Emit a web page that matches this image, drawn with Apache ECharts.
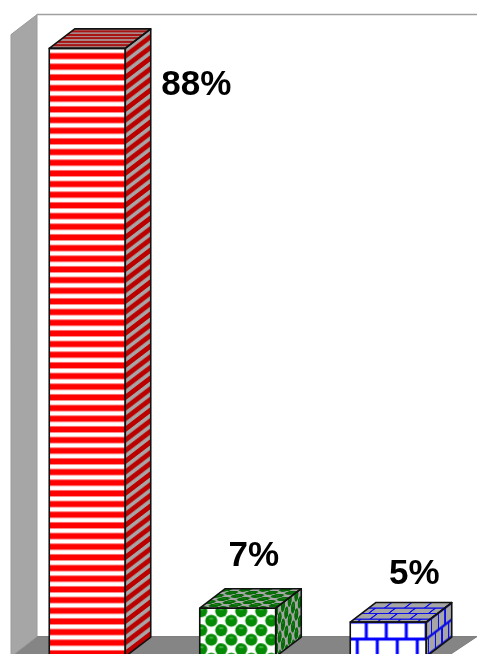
<!DOCTYPE html>
<html>
<head>
<meta charset="utf-8">
<style>html,body{margin:0;padding:0;background:#fff}#chart{width:477px;height:654px;overflow:hidden}</style>
<script src="https://cdn.jsdelivr.net/npm/echarts@6/dist/echarts.min.js"></script>
</head>
<body>
<div id="chart"></div>
<script>
// Share of respondents per group, drawn as hatched 3D columns.
const categories = ['A', 'B', 'C'];
const values = [88, 7, 5];

// Label placement relative to each column's front-top centre.
const labelDx = [109, 16, 26];
const labelDy = [37, -52, -48];

const COL_W = 76;      // column front width
const DEPTH_X = 25.5;  // projected depth of the columns
const DEPTH_Y = -19.5;
const WALL_X = 26;     // projected depth of the room
const WALL_Y = -20;

function makeTile(w, h, draw) {
  const c = document.createElement('canvas');
  c.width = w; c.height = h;
  draw(c.getContext('2d'), w, h);
  return c;
}

// Horizontal stripes: three periods in a 32px tile.
function stripes(bg, fg) {
  return makeTile(8, 32, (g, w, h) => {
    g.fillStyle = bg; g.fillRect(0, 0, w, h);
    g.fillStyle = fg;
    for (let i = 0; i < 3; i++) g.fillRect(0, i * h / 3 + 4.6, w, 6.07);
  });
}

// Checkerboard of shaded balls.
function balls(bg, fg, hi) {
  return makeTile(20, 19, (g, w, h) => {
    g.fillStyle = bg; g.fillRect(0, 0, w, h);
    const spots = [[1.5, 3], [11.5, 12.5]];
    for (const [cx, cy] of spots) {
      for (const ox of [-w, 0, w]) for (const oy of [-h, 0, h]) {
        g.fillStyle = fg;
        g.beginPath(); g.arc(cx + ox, cy + oy, 6.1, 0, Math.PI * 2); g.fill();
        g.fillStyle = hi;
        g.beginPath(); g.ellipse(cx + ox, cy + oy - 2, 2.4, 1.1, 0, 0, Math.PI * 2); g.fill();
      }
    }
  });
}

// Running-bond brickwork with separate joint weights.
function bricks(bg, fg, jointH, jointV) {
  return makeTile(40, 34, (g, w, h) => {
    g.fillStyle = bg; g.fillRect(0, 0, w, h);
    g.fillStyle = fg;
    g.fillRect(0, 17 - jointH / 2, w, jointH);
    g.fillRect(0, 0, w, jointH / 2);
    g.fillRect(0, 34 - jointH / 2, w, jointH / 2);
    for (const x of [16, 36]) g.fillRect(x - jointV / 2, 0, jointV, 17);
    for (const x of [7, 27]) g.fillRect(x - jointV / 2, 17, jointV, 17);
  });
}

const GREY = '#a6a6a6';
const textures = [
  { front: stripes('#ffffff', '#ff0000'), side: stripes(GREY, '#bb0000'), top: stripes('#a88', '#a81414') },
  { front: balls('#ffffff', '#058a05', '#43b043'), side: balls(GREY, '#066a06', '#1f861f'), top: balls(GREY, '#066a06', '#1f861f') },
  { front: bricks('#ffffff', '#0000ff', 3, 3), side: bricks(GREY, '#0c0ce8', 3, 4), top: bricks(GREY, '#0c0ce8', 3.5, 2) }
];

// Paints a tile through an affine frame into the bounding box of a parallelogram.
function faceImage(origin, u, v, spanU, spanV, tile) {
  const corners = [origin,
    [origin[0] + u[0] * spanU, origin[1] + u[1] * spanU],
    [origin[0] + u[0] * spanU + v[0] * spanV, origin[1] + u[1] * spanU + v[1] * spanV],
    [origin[0] + v[0] * spanV, origin[1] + v[1] * spanV]];
  const xs = corners.map(p => p[0]), ys = corners.map(p => p[1]);
  const x0 = Math.floor(Math.min(...xs)), y0 = Math.floor(Math.min(...ys));
  const w = Math.ceil(Math.max(...xs)) - x0, h = Math.ceil(Math.max(...ys)) - y0;
  const c = document.createElement('canvas');
  c.width = w; c.height = h;
  const g = c.getContext('2d');
  g.beginPath();
  corners.forEach((p, i) => i ? g.lineTo(p[0] - x0, p[1] - y0) : g.moveTo(p[0] - x0, p[1] - y0));
  g.closePath(); g.clip();
  g.transform(u[0], u[1], v[0], v[1], origin[0] - x0, origin[1] - y0);
  g.imageSmoothingEnabled = true;
  g.fillStyle = g.createPattern(tile, 'repeat');
  g.fillRect(0, 0, spanU, spanV);
  return { type: 'image', silent: true, style: { image: c, x: x0, y: y0, width: w, height: h } };
}

function poly(points, style) {
  return { type: 'polygon', silent: true, shape: { points }, style };
}

// Back wall edge, left wall and floor of the 3D room.
function renderRoom(params, api) {
  const cs = params.coordSys;
  const left = cs.x - 1, right = api.getWidth();
  const top = cs.y, bottom = cs.y + cs.height;
  const backL = left + WALL_X, backTop = top + WALL_Y, backBottom = bottom + WALL_Y;
  return {
    type: 'group',
    children: [
      poly([[left, bottom], [backL, backBottom], [right, backBottom], [right - WALL_X - 4, bottom]],
        { fill: '#858585', stroke: '#7a7a7a', lineWidth: 1 }),
      poly([[left, top], [backL, backTop], [backL, backBottom], [left, bottom]],
        { fill: GREY, stroke: '#9a9a9a', lineWidth: 1 }),
      { type: 'line', silent: true, shape: { x1: backL, y1: backTop, x2: right, y2: backTop },
        style: { stroke: '#a0a0a0', lineWidth: 1.5 } }
    ]
  };
}

function renderColumn(params, api) {
  const i = params.dataIndex;
  const cat = api.value(0), val = api.value(1);
  const topPt = api.coord([cat, val]);
  const basePt = api.coord([cat, 0]);
  const l = topPt[0] - COL_W / 2, r = topPt[0] + COL_W / 2;
  const t = topPt[1], b = basePt[1];
  const h = b - t;
  const tex = textures[i];
  const edge = { fill: 'none', stroke: '#111', lineWidth: 1.6, lineJoin: 'round' };
  return {
    type: 'group',
    children: [
      faceImage([l, t], [1, 0], [0, 1], COL_W, h, tex.front),
      faceImage([r, t], [DEPTH_X / COL_W, DEPTH_Y / COL_W], [0, 1], COL_W, h, tex.side),
      faceImage([l + DEPTH_X, t + DEPTH_Y], [1, 0], [-DEPTH_X / 60, -DEPTH_Y / 60], COL_W, 60, tex.top),
      poly([[l, t], [r, t], [r, b], [l, b]], edge),
      poly([[r, t], [r + DEPTH_X, t + DEPTH_Y], [r + DEPTH_X, b + DEPTH_Y], [r, b]], edge),
      poly([[l, t], [l + DEPTH_X, t + DEPTH_Y], [r + DEPTH_X, t + DEPTH_Y], [r, t]], edge),
      {
        type: 'text', silent: true,
        style: {
          x: topPt[0] + labelDx[i], y: t + labelDy[i],
          text: val + '%', fill: '#000', align: 'center', verticalAlign: 'middle',
          font: 'bold 35px "Liberation Sans", Arial, sans-serif'
        }
      }
    ]
  };
}

const chart = echarts.init(document.getElementById('chart'), null, { renderer: 'canvas' });
chart.setOption({
  animation: false,
  backgroundColor: '#ffffff',
  grid: { left: 12, top: 34.6, width: 451.5, height: 622, outerBoundsMode: 'none' },
  xAxis: { type: 'category', data: categories, show: false },
  yAxis: { type: 'value', min: 0, max: 90, show: false },
  series: [
    { type: 'custom', coordinateSystem: 'cartesian2d', data: [[0, 0]], renderItem: renderRoom, clip: false, silent: true, z: 1 },
    { type: 'custom', coordinateSystem: 'cartesian2d', data: categories.map((c, i) => [i, values[i]]),
      renderItem: renderColumn, clip: false, silent: true, z: 2 }
  ]
});
</script>
</body>
</html>
